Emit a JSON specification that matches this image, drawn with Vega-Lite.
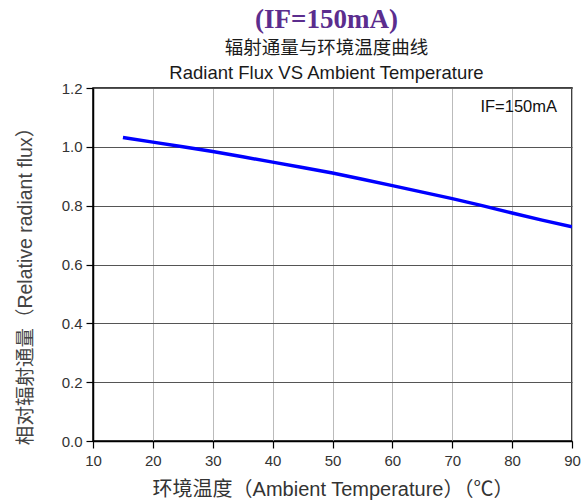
{
  "$schema": "https://vega.github.io/schema/vega-lite/v6.json",
  "width": 479,
  "height": 353,
  "autosize": {"type": "none"},
  "padding": {"left": 93, "top": 88, "right": 14, "bottom": 62},
  "background": "white",
  "config": {
    "view": {"stroke": "black", "strokeWidth": 1.5},
    "font": "Liberation Sans"
  },
  "title": {
    "text": "(IF=150mA)",
    "subtitle": ["辐射通量与环境温度曲线", "Radiant Flux VS Ambient Temperature"],
    "font": "Liberation Serif",
    "fontSize": 27,
    "fontWeight": "bold",
    "color": "#5b2d8e",
    "subtitleFont": "Liberation Sans, Noto Sans CJK SC",
    "subtitleFontSize": 18.5,
    "subtitleColor": "#1a1a1a",
    "subtitleLineHeight": 25,
    "subtitlePadding": 5,
    "anchor": "middle",
    "dx": -6,
    "offset": -2
  },
  "datasets": {
    "curve": [
      {"temp": 15, "flux": 1.032},
      {"temp": 20, "flux": 1.016},
      {"temp": 25, "flux": 1.0},
      {"temp": 30, "flux": 0.984},
      {"temp": 35, "flux": 0.966},
      {"temp": 40, "flux": 0.948},
      {"temp": 45, "flux": 0.930},
      {"temp": 50, "flux": 0.911},
      {"temp": 55, "flux": 0.890},
      {"temp": 60, "flux": 0.868},
      {"temp": 65, "flux": 0.846},
      {"temp": 70, "flux": 0.824},
      {"temp": 75, "flux": 0.800},
      {"temp": 80, "flux": 0.775},
      {"temp": 85, "flux": 0.751},
      {"temp": 90, "flux": 0.728}
    ],
    "note": [{"temp": 87.5, "flux": 1.135, "label": "IF=150mA"}]
  },
  "layer": [
    {
      "data": {"name": "curve"},
      "mark": {"type": "line", "color": "#0000ff", "strokeWidth": 3.5, "clip": true},
      "encoding": {
        "x": {
          "field": "temp",
          "type": "quantitative",
          "scale": {"domain": [10, 90], "nice": false, "zero": false},
          "axis": {
            "values": [10, 15, 20, 25, 30, 35, 40, 45, 50, 55, 60, 65, 70, 75, 80, 85, 90],
            "labelExpr": "datum.value % 10 === 0 ? datum.label : ''",
            "labelFlush": false,
            "labelOverlap": false,
            "title": "环境温度（Ambient Temperature）（℃）",
            "titleFont": "Liberation Sans, Noto Sans CJK SC",
            "titleFontSize": 20,
            "titleFontWeight": "normal",
            "titleColor": "#333333",
            "titlePadding": 11,
            "labelFont": "Liberation Sans",
            "labelFontSize": 15,
            "labelColor": "#333333",
            "labelPadding": 5,
            "domainColor": "black",
            "domainWidth": 1.5,
            "tickColor": "black",
            "tickWidth": 1.2,
            "tickSize": {"condition": {"test": "datum.value % 10 === 0", "value": 7}, "value": 4},
            "grid": true,
            "gridColor": "#bbbbbb",
            "gridWidth": 1,
            "gridOpacity": {"condition": {"test": "datum.value % 10 === 0", "value": 1}, "value": 0}
          }
        },
        "y": {
          "field": "flux",
          "type": "quantitative",
          "scale": {"domain": [0, 1.2], "nice": false},
          "axis": {
            "values": [0, 0.1, 0.2, 0.3, 0.4, 0.5, 0.6, 0.7, 0.8, 0.9, 1.0, 1.1, 1.2],
            "labelExpr": "round(datum.value * 10) % 2 === 0 ? format(datum.value, '.1f') : ''",
            "labelFlush": false,
            "labelOverlap": false,
            "title": "相对辐射通量（Relative radiant flux）",
            "titleFont": "Liberation Sans, Noto Sans CJK SC",
            "titleFontSize": 19.5,
            "titleFontWeight": "normal",
            "titleColor": "#444444",
            "titlePadding": 26,
            "titleY": 193,
            "labelFont": "Liberation Sans",
            "labelFontSize": 15,
            "labelColor": "#333333",
            "labelPadding": 4,
            "domainColor": "black",
            "domainWidth": 1.5,
            "tickColor": "black",
            "tickWidth": 1.2,
            "tickSize": {"condition": {"test": "round(datum.value * 10) % 2 === 0", "value": 7}, "value": 4},
            "grid": true,
            "gridColor": "#555555",
            "gridWidth": 1,
            "gridOpacity": {"condition": {"test": "round(datum.value * 10) % 2 === 0", "value": 1}, "value": 0}
          }
        }
      }
    },
    {
      "data": {"name": "note"},
      "mark": {"type": "text", "align": "right", "baseline": "middle", "fontSize": 16.5, "font": "Liberation Sans", "color": "#111111"},
      "encoding": {
        "x": {"field": "temp", "type": "quantitative"},
        "y": {"field": "flux", "type": "quantitative"},
        "text": {"field": "label"}
      }
    }
  ]
}
